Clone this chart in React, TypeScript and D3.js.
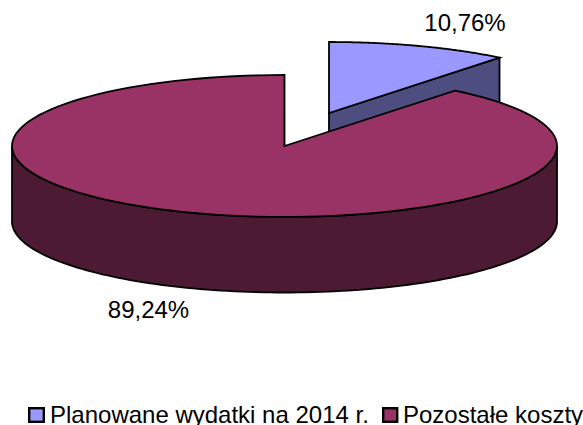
import React from "react";
import * as d3 from "d3";

const categories = ["Planowane wydatki na 2014 r.", "Pozostałe koszty"];
const values = [10.76, 89.24];
const labels = ["10,76%", "89,24%"];
const topColors = ["#9999ff", "#993366"];
const wallColors = ["#4d4d80", "#4d1a33"];

const W = 583, H = 425;
const rx = 272.5, ry = 71, depth = 75.5;
const centers = [{ x: 329, y: 113 }, { x: 284.5, y: 146 }];
const font = "'Liberation Sans', Arial, sans-serif";

const pie = d3.pie<number>().sort(null).startAngle(0).endAngle(2 * Math.PI);
const arcs = pie(values);

type P = [number, number];
const rim = (c: { x: number; y: number }, a: number, dy = 0): P => [
  c.x + rx * Math.sin(a),
  c.y - ry * Math.cos(a) + dy,
];
const rimPts = (c: { x: number; y: number }, a0: number, a1: number, dy = 0): P[] =>
  d3.range(0, 121).map((i) => rim(c, a0 + ((a1 - a0) * i) / 120, dy));
const line = d3.line<P>();

export default function App() {
  const blue = arcs[0], red = arcs[1];
  const cb = centers[0], cr = centers[1];

  const blueTop = line([[cb.x, cb.y], ...rimPts(cb, blue.startAngle, blue.endAngle)]) + "Z";
  const blueEnd = rim(cb, blue.endAngle);
  const blueWall =
    line([
      [cb.x, cb.y],
      blueEnd,
      [blueEnd[0], blueEnd[1] + depth],
      [cb.x, cb.y + depth],
    ]) + "Z";

  const redTop = line([[cr.x, cr.y], ...rimPts(cr, red.startAngle, red.endAngle)]) + "Z";
  const wallA0 = Math.PI / 2, wallA1 = (3 * Math.PI) / 2;
  const redWall =
    line([...rimPts(cr, wallA0, wallA1), ...rimPts(cr, wallA1, wallA0, depth)]) + "Z";

  const sw = 1.8;
  const common = { stroke: "#000", strokeWidth: sw, strokeLinejoin: "miter" as const };
  const textStyle = { fontFamily: font, fontSize: 24, fill: "#000" };

  return (
    <svg
      width={W}
      height={H}
      viewBox={`0 0 ${W} ${H}`}
      style={{ position: "absolute", left: 0, top: 0, display: "block", background: "#fff" }}
    >
      <path d={blueWall} fill={wallColors[0]} {...common} />
      <path d={blueTop} fill={topColors[0]} {...common} />
      <path d={redWall} fill={wallColors[1]} {...common} />
      <path d={redTop} fill={topColors[1]} {...common} />

      <text x={465} y={31} textAnchor="middle" {...textStyle}>{labels[0]}</text>
      <text x={148.5} y={318} textAnchor="middle" {...textStyle}>{labels[1]}</text>

      <rect x={29.2} y={408.2} width={14.6} height={13.6} fill={topColors[0]} stroke="#000" strokeWidth={2.4} />
      <text x={50} y={422.5} {...textStyle}>{categories[0]}</text>
      <rect x={383.2} y={408.2} width={14} height={13.6} fill={topColors[1]} stroke="#000" strokeWidth={2.4} />
      <text x={403} y={422.5} {...textStyle}>{categories[1]}</text>
    </svg>
  );
}
